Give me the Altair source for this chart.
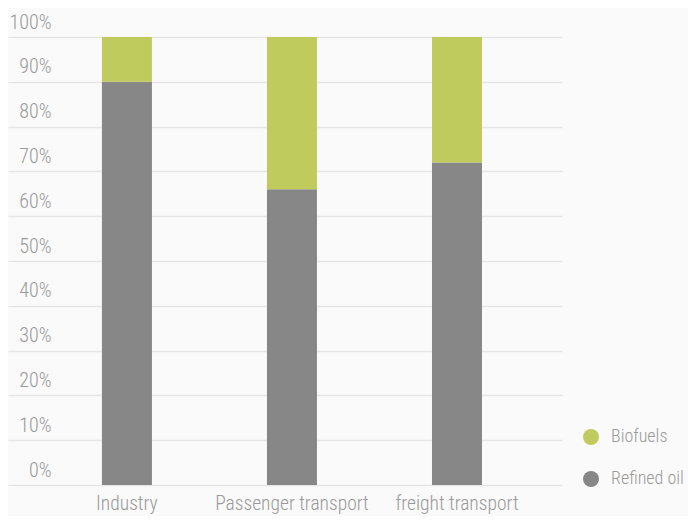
import altair as alt
import pandas as pd

categories = ["Industry", "Passenger transport", "freight transport"]
refined_oil = [90, 66, 72]
biofuels = [10, 34, 28]
series = ["Biofuels", "Refined oil"]
colors = ["#bfcc5d", "#878787"]

rows = []
for c, r, b in zip(categories, refined_oil, biofuels):
    rows.append({"category": c, "fuel": "Refined oil", "share": r, "ord": 0})
    rows.append({"category": c, "fuel": "Biofuels", "share": b, "ord": 1})
df = pd.DataFrame(rows)

FONT = "Roboto Condensed, Liberation Sans Narrow, Roboto, sans-serif"
TXT = "#999999"
W = 300

chart = alt.Chart(df).mark_bar().encode(
    x=alt.X("category:N", sort=categories, title=None,
            scale=alt.Scale(paddingInner=0.697, paddingOuter=0.527, align=0.54),
            axis=alt.Axis(labelAngle=0, domain=False, ticks=False, grid=False,
                          labelPadding=9, labelFontSize=19.5, labelColor=TXT,
                          labelFont=FONT, labelFontWeight=W)),
    y=alt.Y("share:Q", stack="normalize", title=None,
            scale=alt.Scale(domain=[0, 1]),
            axis=alt.Axis(format=".0%", values=[i / 10 for i in range(11)],
                          domain=False, ticks=False, grid=True,
                          gridColor="#e6e6e6", gridWidth=1.5,
                          labelAlign="right", labelPadding=-43,
                          labelBaseline="alphabetic", labelOffset=-9,
                          labelFlush=False, labelFontSize=20, labelColor=TXT,
                          labelFont=FONT, labelFontWeight=W)),
    color=alt.Color("fuel:N", sort=series,
                    scale=alt.Scale(domain=series, range=colors),
                    legend=alt.Legend(title=None, orient="none", legendX=574,
                                      legendY=391, symbolType="circle",
                                      symbolSize=256, symbolStrokeWidth=0,
                                      labelFontSize=18, labelColor=TXT,
                                      labelFont=FONT, labelFontWeight=W,
                                      labelOffset=11, rowPadding=24, padding=0)),
    order=alt.Order("ord:Q"),
).properties(
    width=554, height=448,
    autosize=alt.AutoSizeParams(type="none"),
    padding={"left": 0, "top": 29, "right": 126, "bottom": 31},
    background="#fafafa",
).configure_view(stroke=None)

chart.save("out.html", embed_options={"renderer": "svg", "actions": False})
